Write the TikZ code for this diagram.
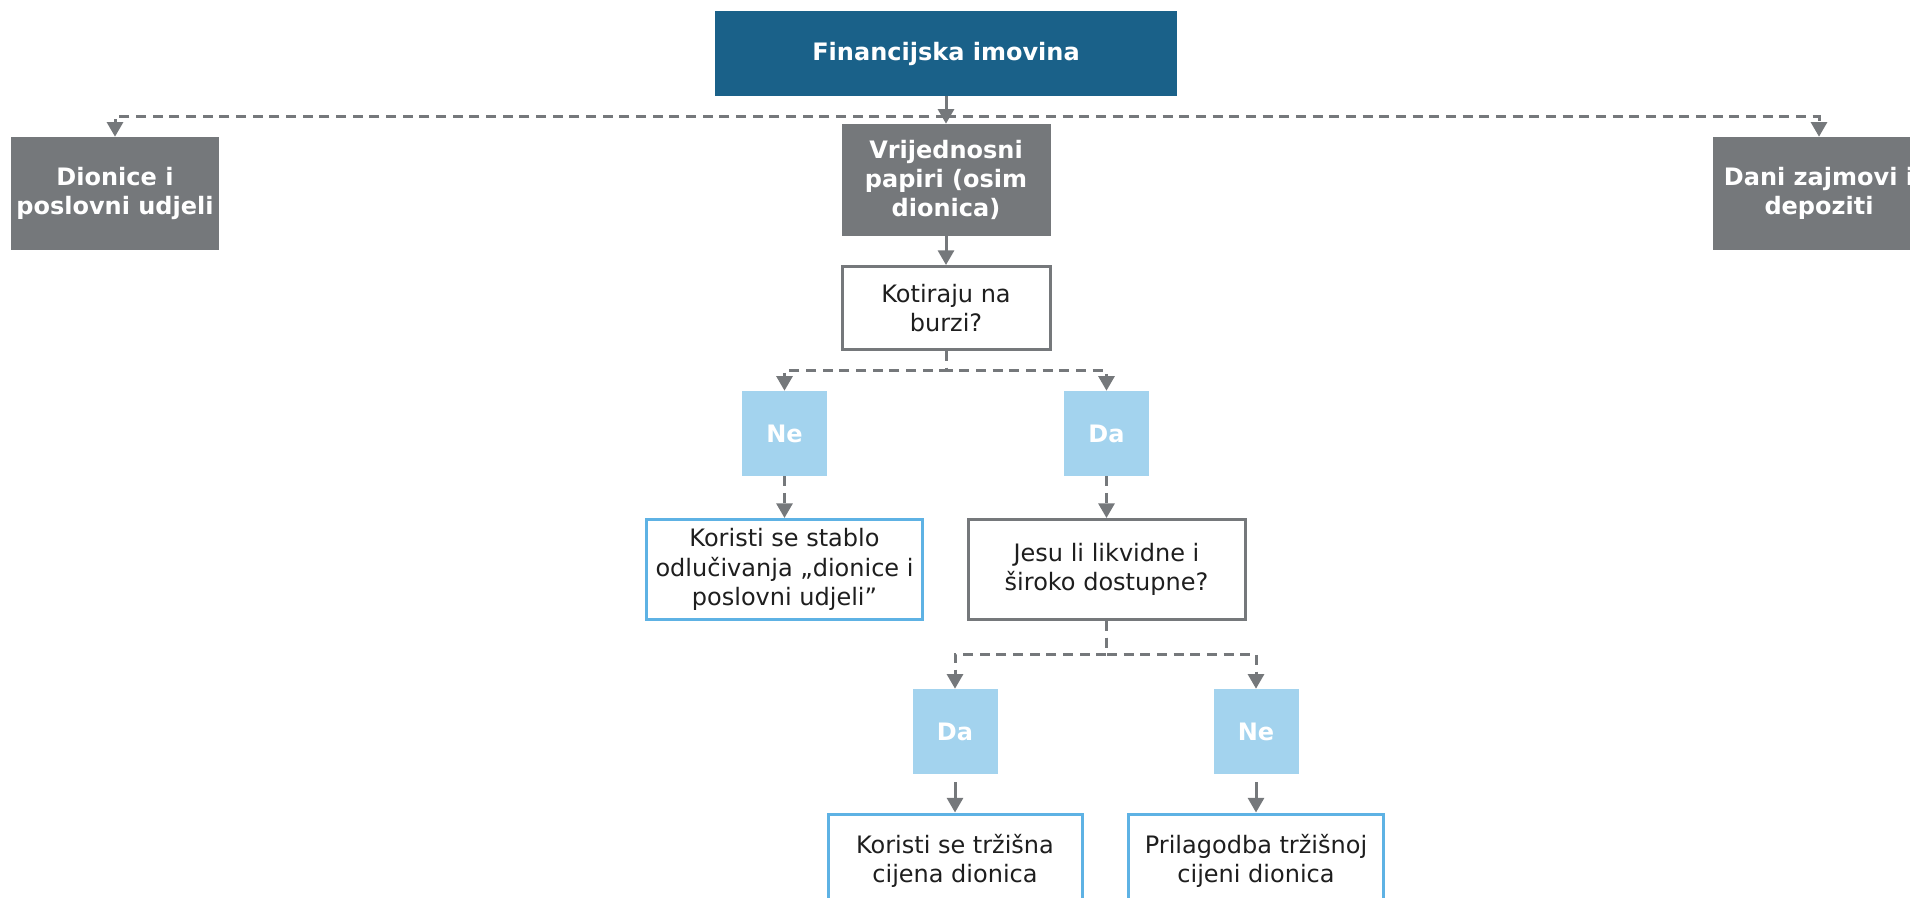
\documentclass[tikz,border=0pt]{standalone}
\usepackage{fontspec}
\setmainfont{DejaVu Sans}
\usetikzlibrary{arrows.meta}
\definecolor{darkblue}{RGB}{26,97,137}
\definecolor{greybox}{RGB}{117,120,123}
\definecolor{lightblue}{RGB}{163,211,238}
\definecolor{bluebord}{RGB}{94,178,228}
\definecolor{linegray}{RGB}{117,120,123}
\definecolor{textcol}{RGB}{30,30,30}
\begin{document}
\begin{tikzpicture}[x=0.75pt,y=-0.75pt,
  base/.style={align=center, inner sep=0pt, font=\fontsize{18pt}{22pt}\selectfont},
  filled/.style={base, text=white, font=\fontsize{18pt}{22pt}\selectfont\bfseries},
  topbox/.style={filled, fill=darkblue},
  graybox/.style={filled, fill=greybox},
  answer/.style={filled, fill=lightblue, minimum width=63.75pt, minimum height=63.75pt},
  question/.style={base, draw=greybox, line width=2.25pt, fill=white, text=textcol},
  result/.style={base, draw=bluebord, line width=2.25pt, fill=white, text=textcol},
  conn/.style={draw=linegray, line width=2.25pt, -{Triangle[width=12pt,length=11pt]}},
  dconn/.style={conn, dash pattern=on 7.5pt off 5pt},
]
\useasboundingbox (0,0) rectangle (1910,898);
\clip (0,0) rectangle (1910,898);

\node[topbox, minimum width=346.5pt, minimum height=63.75pt] (fin) at (946,53.5) {Financijska imovina};
\node[graybox, minimum width=156.75pt, minimum height=84pt] (vp) at (946,180) {Vrijednosni\\papiri (osim\\dionica)};
\node[graybox, minimum width=156pt, minimum height=84.75pt] (dion) at (115,193.5) {Dionice i\\poslovni udjeli};
\node[graybox, minimum width=159pt, minimum height=84.75pt] (dani) at (1819,193.5) {Dani zajmovi i\\depoziti};
\node[question, minimum width=156pt, minimum height=62.25pt] (kot) at (946,308) {Kotiraju na\\burzi?};
\node[answer] (ne1) at (784.5,433.5) {Ne};
\node[answer] (da1) at (1106.5,433.5) {Da};
\node[result, minimum width=207pt, minimum height=75pt] (kss) at (784.5,569.5) {Koristi se stablo\\odlučivanja „dionice i\\poslovni udjeli”};
\node[question, minimum width=207.75pt, minimum height=75pt] (jesu) at (1106.5,569.5) {Jesu li likvidne i\\široko dostupne?};
\node[answer] (da2) at (955,731.5) {Da};
\node[answer] (ne2) at (1256,731.5) {Ne};
\node[result, minimum width=190.5pt, minimum height=70.5pt] (ktc) at (955,861) {Koristi se tržišna\\cijena dionica};
\node[result, minimum width=191.25pt, minimum height=70.5pt] (pril) at (1256,861) {Prilagodba tržišnoj\\cijeni dionica};

\coordinate (s1) at (946,117);
\coordinate (s2) at (946,371);
\coordinate (s3) at (1106.5,654);

\draw[dconn] (s1) -| (dion.north);
\draw[dconn] (s1) -| (dani.north);
\draw[conn] (fin) -- (vp);
\draw[conn] (vp) -- (kot);
\draw[dconn] (kot.south) -- (s2) -| (ne1.north);
\draw[dconn] (kot.south) -- (s2) -| (da1.north);
\draw[dconn] (ne1) -- (kss);
\draw[dconn] (da1) -- (jesu);
\draw[dconn] (jesu.south) -- (s3) -| (da2.north);
\draw[dconn] (jesu.south) -- (s3) -| (ne2.north);
\draw[conn, shorten <=6pt] (da2) -- (ktc);
\draw[conn, shorten <=6pt] (ne2) -- (pril);
\end{tikzpicture}
\end{document}
